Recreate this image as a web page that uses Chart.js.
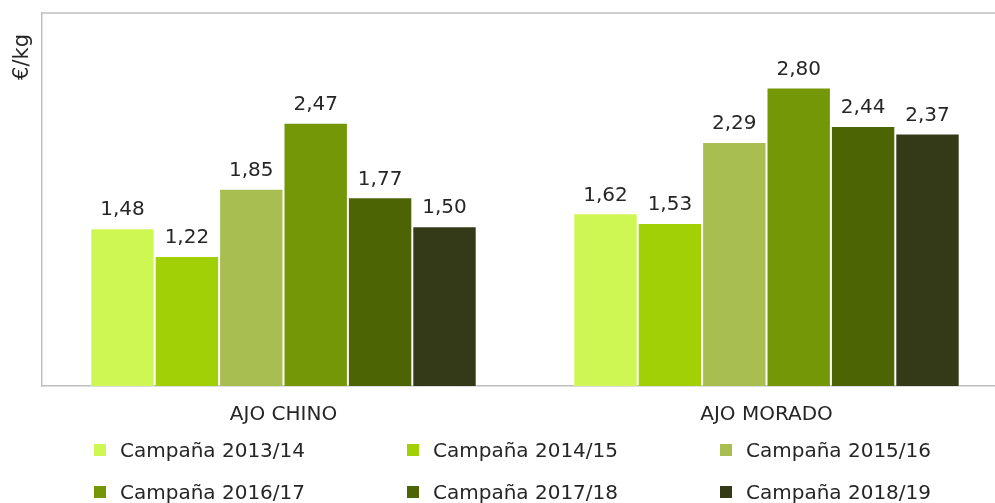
<!DOCTYPE html>
<html lang="es">
<head>
    <meta charset="UTF-8">
    <title>Precio ajo por campaña</title>
    <script src="https://cdn.jsdelivr.net/npm/chart.js"></script>
    <style>
        body {
            margin: 0;
            background: #fff;
            overflow: hidden;
            font-family: 'DejaVu Sans', sans-serif;
        }
        .wrap {
            position: relative;
            width: 1047px;
            height: 503px;
        }
        /* Legend built from the same arrays as the chart */
        #legend {
            position: absolute;
            left: 94px;
            top: 429px;
            display: grid;
            grid-template-columns: 313px 313px 313px;
            grid-auto-rows: 42px;
            font-size: 20px;
            color: #262626;
        }
        #legend .item {
            display: flex;
            align-items: center;
            white-space: nowrap;
        }
        #legend .box {
            width: 12px;
            height: 12px;
            margin-right: 14px;
        }
    </style>
</head>
<body>
    <div class="wrap">
        <canvas id="chart" width="1047" height="503"></canvas>
        <div id="legend"></div>
    </div>

    <script>
        // Data
        const categories = ['AJO CHINO', 'AJO MORADO'];
        const seasons = ['Campaña 2013/14', 'Campaña 2014/15', 'Campaña 2015/16',
                         'Campaña 2016/17', 'Campaña 2017/18', 'Campaña 2018/19'];
        const v1314 = [1.48, 1.62];
        const v1415 = [1.22, 1.53];
        const v1516 = [1.85, 2.29];
        const v1617 = [2.47, 2.80];
        const v1718 = [1.77, 2.44];
        const v1819 = [1.50, 2.37];
        const seriesValues = [v1314, v1415, v1516, v1617, v1718, v1819];
        const colors = ['#CFF753', '#A0D005', '#A8BE50', '#749707', '#4D6404', '#343A17'];

        const axisGray = '#bfbfbf';
        const textColor = '#262626';

        // value labels above each bar, with decimal comma
        const valueLabels = {
            id: 'valueLabels',
            afterDatasetsDraw(chart) {
                const ctx = chart.ctx;
                ctx.save();
                ctx.font = '20px "DejaVu Sans", sans-serif';
                ctx.fillStyle = textColor;
                ctx.textAlign = 'center';
                ctx.textBaseline = 'bottom';
                chart.data.datasets.forEach((ds, i) => {
                    chart.getDatasetMeta(i).data.forEach((bar, j) => {
                        ctx.fillText(ds.data[j].toFixed(2).replace('.', ','), bar.x, bar.y - 8);
                    });
                });
                ctx.restore();
            }
        };

        // top border of the plot area + axis title
        const frame = {
            id: 'frame',
            afterDraw(chart) {
                const { ctx, chartArea } = chart;
                ctx.save();
                ctx.strokeStyle = axisGray;
                ctx.lineWidth = 1.5;
                ctx.beginPath();
                ctx.moveTo(chartArea.left, chartArea.top);
                ctx.lineTo(chartArea.right, chartArea.top);
                ctx.stroke();

                ctx.translate(23, 57);
                ctx.rotate(-Math.PI / 2);
                ctx.font = '21px "DejaVu Sans", sans-serif';
                ctx.fillStyle = textColor;
                ctx.textAlign = 'center';
                ctx.textBaseline = 'middle';
                ctx.fillText('€/kg', 0, 0);
                ctx.restore();
            }
        };

        const chart = new Chart(document.getElementById('chart'), {
            type: 'bar',
            data: {
                labels: categories,
                datasets: seasons.map((s, i) => ({
                    label: s,
                    data: seriesValues[i],
                    backgroundColor: colors[i],
                    borderColor: 'rgba(255,255,255,0.3)',
                    borderWidth: 1,
                    categoryPercentage: 0.8,
                    barPercentage: 1.0
                }))
            },
            options: {
                responsive: false,
                animation: false,
                layout: { padding: { top: 13, left: 42, right: 39, bottom: 59 } },
                plugins: {
                    legend: { display: false },
                    tooltip: { enabled: false }
                },
                scales: {
                    x: {
                        grid: { display: false, drawTicks: false },
                        border: { display: true, color: axisGray, width: 1.5 },
                        ticks: {
                            padding: 17,
                            color: textColor,
                            font: { family: 'DejaVu Sans', size: 20 }
                        }
                    },
                    y: {
                        min: 0,
                        max: 3.5,
                        grid: { display: false, drawTicks: false },
                        border: { display: true, color: axisGray, width: 1.5 },
                        ticks: { display: false }
                    }
                }
            },
            plugins: [valueLabels, frame]
        });

        // HTML legend
        const legend = document.getElementById('legend');
        seasons.forEach((s, i) => {
            const item = document.createElement('div');
            item.className = 'item';
            item.innerHTML = '<span class="box" style="background:' + colors[i] + '"></span>' + s;
            legend.appendChild(item);
        });
    </script>
</body>
</html>
